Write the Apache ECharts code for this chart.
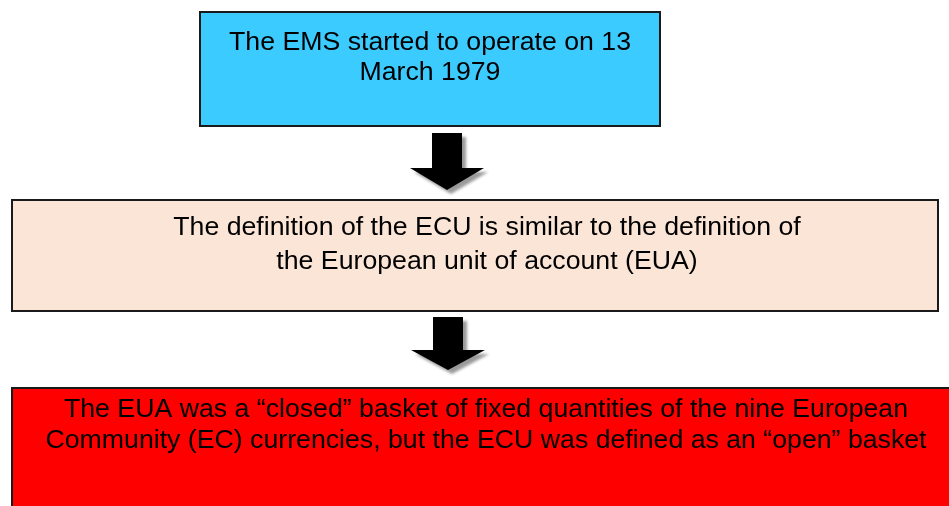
<!DOCTYPE html>
<html>
<head>
<meta charset="utf-8">
<script src="https://cdn.jsdelivr.net/npm/echarts@6/dist/echarts.min.js"></script>
<style>
  html, body { margin: 0; padding: 0; background: #fff; }
  #chart { width: 949px; height: 506px; }
</style>
</head>
<body>
<div id="chart"></div>
<script>
// flow steps, top to bottom
var stepTexts = [
  'The EMS started to operate on 13\nMarch 1979',
  'The definition of the ECU is similar to the definition of\nthe European unit of account (EUA)',
  'The EUA was a \u201cclosed\u201d basket of fixed quantities of the nine European\nCommunity (EC) currencies, but the ECU was defined as an \u201copen\u201d basket'
]

// layout of each box: [x, y, w, h], fill, text centre, line height
var boxes = [
  { rect: [200, 12, 460, 114], fill: '#3ccbff', textX: 430, textY: 58, lineHeight: 30 },
  { rect: [12, 200, 926, 111], fill: '#fbe5d6', textX: 487, textY: 245, lineHeight: 34 },
  { rect: [12, 388, 950, 130], fill: '#ff0000', textX: 486, textY: 425, lineHeight: 31 }
]
// arrows: center x, top y, head start y, tip y
var arrows = [
  { cx: 447, top: 133, headTop: 168, tip: 190 },
  { cx: 448, top: 317, headTop: 350, tip: 370 }
]

function arrowPoints(a) {
  var sw = 15, hw = 37
  return [
    [a.cx - sw, a.top], [a.cx + sw, a.top], [a.cx + sw, a.headTop],
    [a.cx + hw, a.headTop], [a.cx, a.tip], [a.cx - hw, a.headTop],
    [a.cx - sw, a.headTop]
  ]
}

var chart = echarts.init(document.getElementById('chart'))
var elements = []

boxes.forEach(function (b, i) {
  elements.push({
    type: 'rect',
    shape: { x: b.rect[0], y: b.rect[1], width: b.rect[2], height: b.rect[3] },
    style: { fill: b.fill, stroke: '#1a1a1a', lineWidth: 2 }
  })
  elements.push({
    type: 'text',
    x: b.textX,
    y: b.textY,
    style: {
      text: stepTexts[i],
      fill: '#000',
      font: '26.7px "Liberation Sans", Arial, sans-serif',
      textAlign: 'center',
      textVerticalAlign: 'middle',
      lineHeight: b.lineHeight
    }
  })
})

arrows.forEach(function (a) {
  elements.push({
    type: 'polygon',
    shape: { points: arrowPoints(a) },
    style: {
      fill: '#000',
      shadowColor: 'rgba(0,0,0,0.4)',
      shadowBlur: 3,
      shadowOffsetX: 4,
      shadowOffsetY: 4
    }
  })
})

chart.setOption({
  backgroundColor: '#fff',
  animation: false,
  graphic: { elements: elements }
})
</script>
</body>
</html>
